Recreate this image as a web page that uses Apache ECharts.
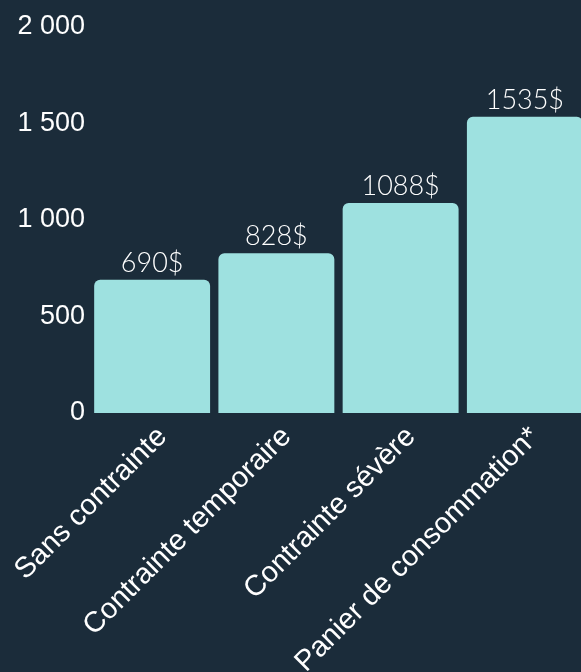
<!DOCTYPE html>
<html>
<head>
<meta charset="utf-8">
<script src="https://cdn.jsdelivr.net/npm/echarts@6/dist/echarts.min.js"></script>
<style>
html,body{margin:0;padding:0;background:#1b2c3a;}
#c{width:581px;height:672px;}
</style>
</head>
<body>
<div id="c"></div>
<script>
const categories = ["Sans contrainte", "Contrainte temporaire", "Contrainte sévère", "Panier de consommation*"];
const values = [690, 828, 1088, 1535];
const yTicks = { min: 0, max: 2000, interval: 500 };

const chart = echarts.init(document.getElementById('c'));
chart.setOption({
  backgroundColor: '#1b2c3a',
  animation: false,
  grid: { left: 90, top: 27, width: 497, bottom: 259, containLabel: false, outerBoundsMode: 'none' },
  xAxis: {
    type: 'category',
    data: categories,
    axisLine: { show: false },
    axisTick: { show: false },
    axisLabel: {
      rotate: 45,
      interval: 0,
      margin: 9,
      verticalAlign: 'top',
      color: '#ffffff',
      fontFamily: 'Liberation Sans, Arial, sans-serif',
      fontSize: 29
    }
  },
  yAxis: {
    type: 'value',
    min: yTicks.min,
    max: yTicks.max,
    interval: yTicks.interval,
    splitLine: { show: false },
    axisLine: { show: false },
    axisTick: { show: false },
    axisLabel: {
      margin: 5,
      color: '#ffffff',
      fontFamily: 'Liberation Sans, Arial, sans-serif',
      fontSize: 27,
      formatter: v => String(v).replace(/\B(?=(\d{3})+(?!\d))/g, ' ')
    }
  },
  series: [{
    type: 'bar',
    data: values,
    barCategoryGap: '6.7%',
    itemStyle: { color: '#9ee1e0', borderRadius: [6, 6, 0, 0] },
    label: {
      show: true,
      position: 'top',
      distance: 3,
      color: '#ffffff',
      fontFamily: 'Lato, sans-serif',
      fontWeight: 300,
      fontSize: 27,
      formatter: p => p.value + '$'
    }
  }]
});
</script>
</body>
</html>
